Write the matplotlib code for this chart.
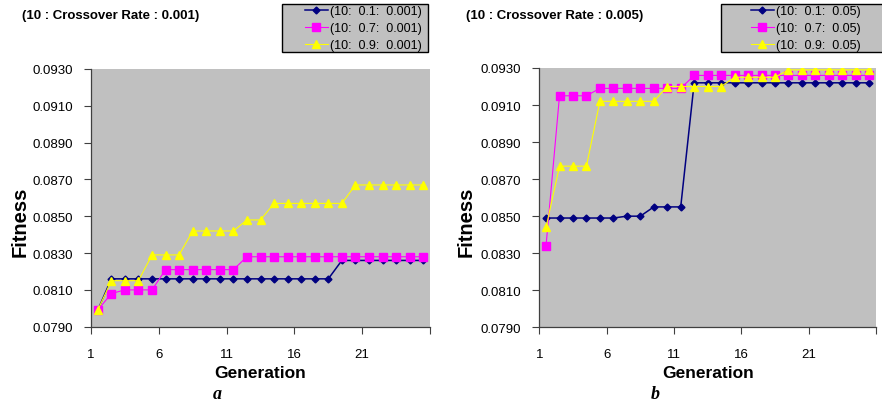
import numpy as np
import matplotlib
matplotlib.use('Agg')
import matplotlib.pyplot as plt
from matplotlib.patches import Rectangle

plt.rcParams['font.family'] = ['Liberation Sans', 'DejaVu Sans']

# data (25 generations each)
generations = np.arange(1, 26)
tick_labels = ['1', '6', '11', '16', '21', '']

# panel a : crossover rate 0.001
a_01 = [0.0799] + [0.0816] * 17 + [0.0826] * 7
a_07 = [0.0799, 0.0808, 0.0810, 0.0810, 0.0810] + [0.0821] * 6 + [0.0828] * 14
a_09 = [0.0799] + [0.0815] * 3 + [0.0829] * 3 + [0.0842] * 4 + [0.0848] * 2 + [0.0857] * 6 + [0.0867] * 6

# panel b : crossover rate 0.005
b_01 = [0.0849] * 6 + [0.0850] * 2 + [0.0855] * 3 + [0.0922] * 14
b_07 = [0.0834] + [0.0915] * 3 + [0.0919] * 7 + [0.0926] * 14
b_09 = [0.0844] + [0.0877] * 3 + [0.0912] * 5 + [0.0920] * 5 + [0.0925] * 4 + [0.0929] * 7

labels_a = ['(10:  0.1:  0.001)', '(10:  0.7:  0.001)', '(10:  0.9:  0.001)']
labels_b = ['(10:  0.1:  0.05)', '(10:  0.7:  0.05)', '(10:  0.9:  0.05)']

styles = [
    dict(color='#000080', marker='D', markersize=3.5, linewidth=1.1),
    dict(color='#FF00FF', marker='s', markersize=5.5, linewidth=0.8),
    dict(color='#FFFF00', marker='^', markersize=5.5, linewidth=0.8),
]

W, H = 882, 406
fig = plt.figure(figsize=(W / 100, H / 100), dpi=100)


def px_axes(x0, y0, x1, y1):
    return fig.add_axes([x0 / W, 1 - y1 / H, (x1 - x0) / W, (y1 - y0) / H])


def draw_panel(ax, series, labels, title, title_x, box, leg_x, letter, ylab_x):
    lines = []
    for vals, st in zip(series, styles):
        lines += ax.plot(generations, vals, **st)
    ax.set_facecolor('#C0C0C0')
    ax.set_xlim(0.5, 25.5)
    ax.set_ylim(0.0790, 0.0930)
    yt = np.arange(0.0790, 0.09301, 0.0020)
    ax.set_yticks(yt)
    ax.set_yticklabels([f'{v:.4f}' for v in yt])
    ax.set_xticks(np.arange(0.5, 26, 5))
    ax.set_xticklabels(tick_labels)
    ax.tick_params(axis='y', length=5, width=0.8, pad=8, labelsize=9.5, color='#404040')
    ax.tick_params(axis='x', length=5, width=0.8, pad=10, labelsize=9.5, color='#404040')
    for s in ['top', 'right']:
        ax.spines[s].set_visible(False)
    for s in ['left', 'bottom']:
        ax.spines[s].set_color('#404040')
        ax.spines[s].set_linewidth(0.9)

    bb = ax.get_position()
    cx = (bb.x0 + bb.x1) / 2
    fig.text(cx, 1 - 374 / H, 'Generation', ha='center', va='center',
             fontsize=12.5, fontweight='bold')
    fig.text(ylab_x / W, 1 - 222 / H, 'Fitness', rotation=90,
             ha='center', va='center', fontsize=14.5, fontweight='bold')
    fig.text(title_x / W, 1 - 16 / H, title, ha='left', va='center',
             fontsize=9.5, fontweight='bold')
    fig.text(letter[1] / W, 1 - 395 / H, letter[0], ha='center', va='center',
             fontsize=13, fontweight='bold', style='italic', family='Liberation Serif')

    # legend box, gray with black border
    bx0, by0, bx1, by1 = box
    fig.patches.append(Rectangle((bx0 / W, 1 - by1 / H), (bx1 - bx0) / W, (by1 - by0) / H,
                                 transform=fig.transFigure, facecolor='#C0C0C0',
                                 edgecolor='black', linewidth=1.0, zorder=1))
    leg = fig.legend(lines, labels, loc='upper left',
                     bbox_to_anchor=(leg_x / W, 1 - 3.5 / H),
                     frameon=False, fontsize=9,
                     handlelength=1.9, handletextpad=0.15, labelspacing=0.4,
                     borderpad=0.2, borderaxespad=0)
    leg.set_zorder(5)


ax1 = px_axes(91, 70, 430, 327.7)
draw_panel(ax1, [a_01, a_07, a_09], labels_a, '(10 : Crossover Rate : 0.001)', 22,
           (282, 5, 428, 53), 302, ('a', 217), 20)

ax2 = px_axes(539.3, 69, 876, 328.3)
draw_panel(ax2, [b_01, b_07, b_09], labels_b, '(10 : Crossover Rate : 0.005)', 466,
           (721, 5, 890, 53), 748, ('b', 655), 466)

fig.savefig('out.png', dpi=100)
